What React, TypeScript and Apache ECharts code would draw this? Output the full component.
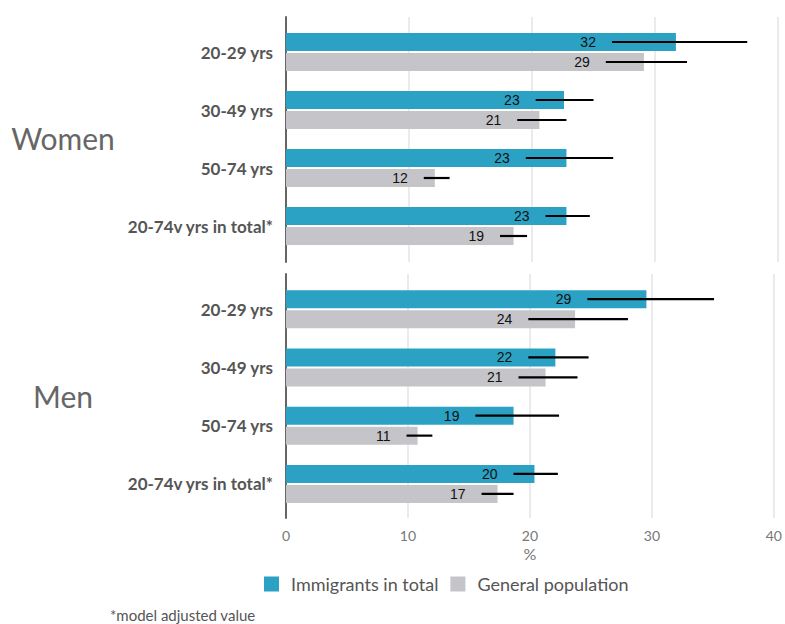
import React, { useEffect, useRef } from "react";
import * as echarts from "echarts";

const categories = ["20-29 yrs", "30-49 yrs", "50-74 yrs", "20-74v yrs in total*"];
const seriesNames = ["Immigrants in total", "General population"];
const xTicks = [0, 10, 20, 30, 40];

const womenImm = [31.7, 22.6, 22.8, 22.8];
const womenImmLow = [26.5, 20.3, 19.5, 21.1];
const womenImmHigh = [37.5, 25.0, 26.6, 24.7];
const womenGen = [29.1, 20.6, 12.1, 18.5];
const womenGenLow = [26.0, 18.8, 11.2, 17.4];
const womenGenHigh = [32.6, 22.8, 13.3, 19.6];

const menImm = [29.3, 21.9, 18.5, 20.2];
const menImmLow = [24.5, 19.7, 15.4, 18.5];
const menImmHigh = [34.8, 24.6, 22.2, 22.1];
const menGen = [23.5, 21.1, 10.7, 17.2];
const menGenLow = [19.7, 18.9, 9.8, 15.9];
const menGenHigh = [27.8, 23.7, 11.9, 18.5];

const BLUE = "#2ba1c3";
const GRAY = "#c5c4c9";
const FONT = "Lato, 'Noto Sans', sans-serif";
const BAR_W = 18;
const BAR_GAP = 2;

function errData(imm: number[], immLo: number[], immHi: number[], gen: number[], genLo: number[], genHi: number[]) {
  const out: any[] = [];
  categories.forEach((_, i) => {
    out.push([immLo[i], immHi[i], i, Math.round(imm[i]), -1]);
    out.push([genLo[i], genHi[i], i, Math.round(gen[i]), 1]);
  });
  return out;
}

function renderErr(params: any, api: any) {
  const idx = api.value(2);
  const lo = api.coord([api.value(0), idx]);
  const hi = api.coord([api.value(1), idx]);
  const y = lo[1] + api.value(4) * (BAR_W / 2 + BAR_GAP / 2);
  return {
    type: "group",
    children: [
      {
        type: "line",
        shape: { x1: lo[0], y1: y, x2: hi[0], y2: y },
        style: { stroke: "#000", lineWidth: 2.2 },
      },
      {
        type: "text",
        x: lo[0] - 16,
        y: y,
        style: {
          text: String(api.value(3)),
          textAlign: "right",
          textVerticalAlign: "middle",
          fill: "#111",
          font: "14px 'Liberation Sans', Arial, sans-serif",
        },
      },
    ],
  };
}

export default function App() {
  const ref = useRef<HTMLDivElement>(null);
  useEffect(() => {
    if (!ref.current) return;
    const chart = echarts.init(ref.current, undefined, { renderer: "svg" });
    const left = 286;
    const right = 7;
    const valueX = (show: boolean, gi: number, withLabels: boolean) => ({
      type: "value",
      gridIndex: gi,
      min: 0,
      max: 40,
      interval: 10,
      axisLine: { show: false },
      axisTick: { show: false },
      splitLine: { show, lineStyle: { color: "#e4e4e8", width: 1.5 } },
      axisLabel: {
        show: withLabels,
        color: "#777",
        fontSize: 14,
        fontFamily: FONT,
        margin: 10,
        formatter: (v: number) => (xTicks.includes(v) ? String(v) : ""),
      },
      name: withLabels ? "%" : "",
      nameLocation: "middle",
      nameGap: 27,
      nameTextStyle: { color: "#777", fontSize: 16, fontFamily: FONT },
    });
    const lineY = (gi: number) => ({
      type: "value",
      gridIndex: gi,
      min: 0,
      max: 1,
      axisLine: { show: true, lineStyle: { color: "#666", width: 2 } },
      axisTick: { show: false },
      axisLabel: { show: false },
      splitLine: { show: false },
    });
    const catY = (gi: number) => ({
      type: "category",
      gridIndex: gi,
      inverse: true,
      data: categories,
      axisLine: { show: false },
      axisTick: { show: false },
      axisLabel: {
        color: "#555",
        fontSize: 17,
        fontWeight: "bold",
        fontFamily: FONT,
        margin: 13,
      },
    });
    const bar = (name: string, data: number[], gi: number, color: string) => ({
      type: "bar",
      name,
      xAxisIndex: gi,
      yAxisIndex: gi,
      data,
      barWidth: BAR_W,
      barGap: `${(BAR_GAP / BAR_W) * 100}%`,
      itemStyle: { color },
      z: 2,
    });
    const option: any = {
      animation: false,
      backgroundColor: "#fff",
      grid: [
        { left, right, top: 17, height: 245 },
        { left, right, top: 23, height: 232 },
        { left, right, top: 274, height: 244 },
        { left, right, top: 280, height: 233 },
      ],
      xAxis: [valueX(true, 0, false), valueX(false, 1, false), valueX(true, 2, true), valueX(false, 3, false)],
      yAxis: [lineY(0), catY(1), lineY(2), catY(3)],
      legend: {
        data: seriesNames,
        left: 264,
        top: 575,
        padding: 0,
        icon: "rect",
        itemWidth: 15,
        itemHeight: 15,
        itemGap: 12,
        textStyle: { color: "#555", fontSize: 18, fontFamily: FONT, padding: [0, 0, 0, 7] },
      },
      graphic: [
        {
          type: "text",
          x: 63,
          y: 138,
          style: { text: "Women", textAlign: "center", textVerticalAlign: "middle", fill: "#666", font: `30px ${FONT}` },
        },
        {
          type: "text",
          x: 63,
          y: 396,
          style: { text: "Men", textAlign: "center", textVerticalAlign: "middle", fill: "#666", font: `30px ${FONT}` },
        },
        {
          type: "text",
          x: 110,
          y: 615,
          style: { text: "*model adjusted value", textAlign: "left", textVerticalAlign: "middle", fill: "#555", font: `15px ${FONT}` },
        },
      ],
      series: [
        bar(seriesNames[0], womenImm, 1, BLUE),
        bar(seriesNames[1], womenGen, 1, GRAY),
        bar(seriesNames[0], menImm, 3, BLUE),
        bar(seriesNames[1], menGen, 3, GRAY),
        {
          type: "custom",
          name: "err-women",
          xAxisIndex: 1,
          yAxisIndex: 1,
          renderItem: renderErr,
          encode: { x: [0, 1], y: 2 },
          data: errData(womenImm, womenImmLow, womenImmHigh, womenGen, womenGenLow, womenGenHigh),
          z: 5,
        },
        {
          type: "custom",
          name: "err-men",
          xAxisIndex: 3,
          yAxisIndex: 3,
          renderItem: renderErr,
          encode: { x: [0, 1], y: 2 },
          data: errData(menImm, menImmLow, menImmHigh, menGen, menGenLow, menGenHigh),
          z: 5,
        },
      ],
    };
    chart.setOption(option);
    return () => chart.dispose();
  }, []);
  return <div ref={ref} style={{ position: "absolute", left: 0, top: 0, width: 785, height: 624 }} />;
}
